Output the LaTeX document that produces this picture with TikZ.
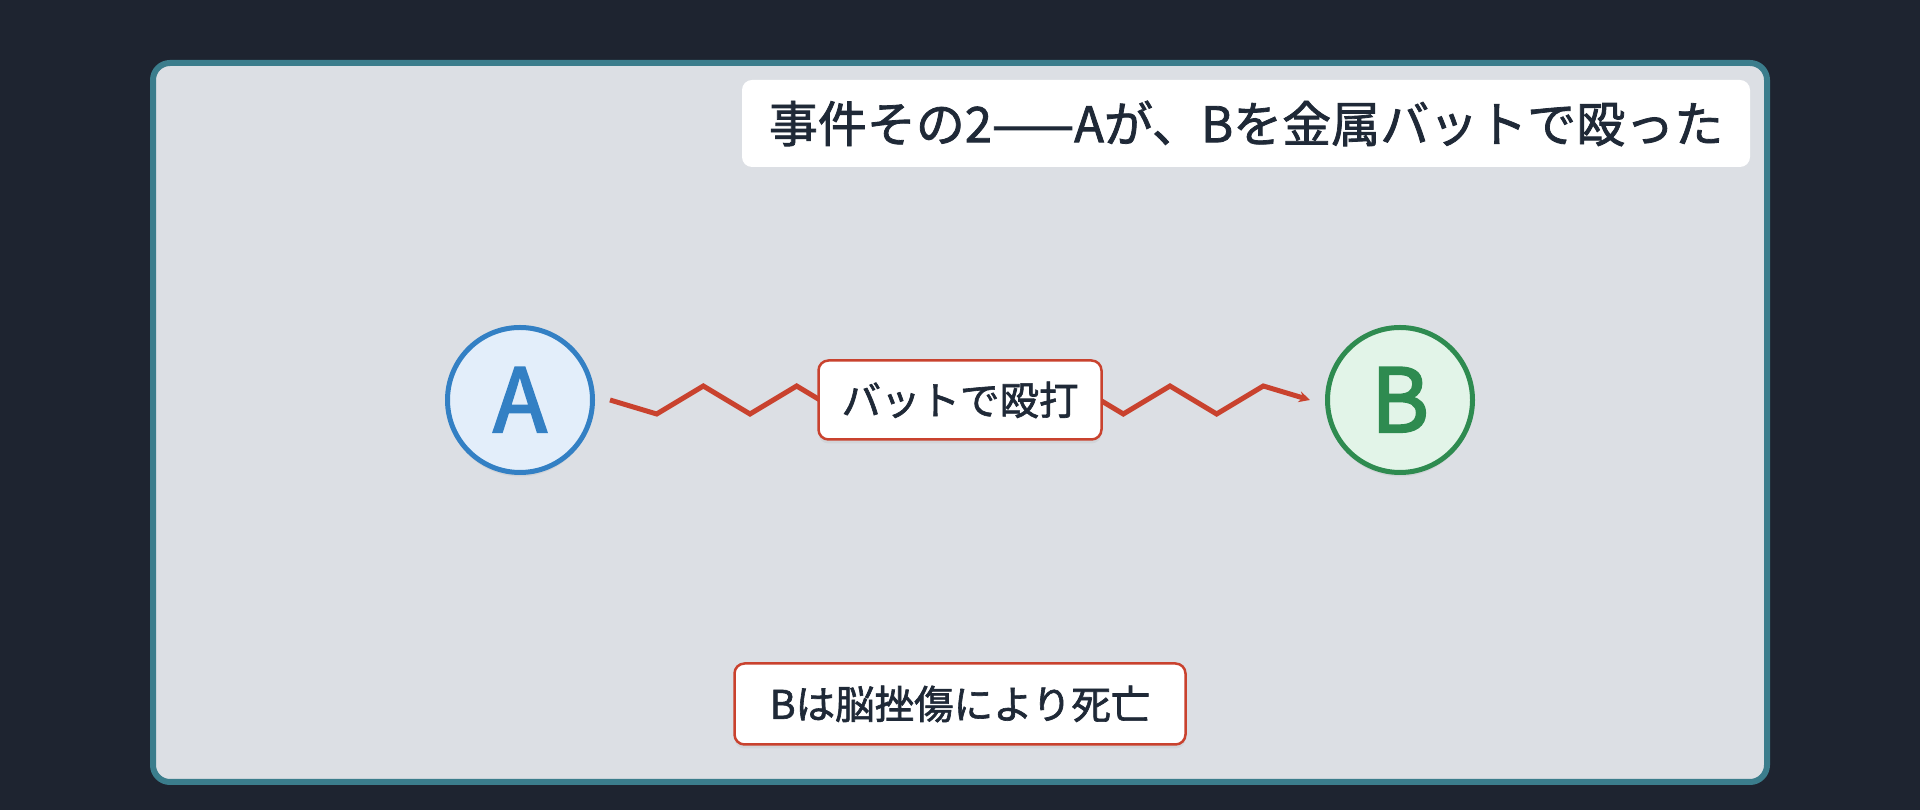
\documentclass[tikz,border=0pt]{standalone}
\usepackage{fontspec}
\setmainfont{Noto Sans CJK JP}
\newfontfamily\jpmid[FakeBold=1.6]{Noto Sans CJK JP}
\newfontfamily\jpletter[FakeBold=2.6]{Noto Sans CJK JP}
\usetikzlibrary{
  arrows.meta,
  calc,
  shadows
}
\usepackage{xcolor}
\definecolor{night}{rgb}{0.1176,0.1412,0.1882}
\definecolor{panelGray}{rgb}{0.8627,0.8745,0.8941}
\definecolor{panelTeal}{rgb}{0.2314,0.4902,0.549}
\definecolor{ink}{rgb}{0.1216,0.1608,0.2157}
\definecolor{hitRed}{rgb}{0.7882,0.2588,0.1804}
\definecolor{blueLine}{rgb}{0.2,0.502,0.7686}
\definecolor{lightBlue}{rgb}{0.8902,0.9333,0.9804}
\definecolor{greenLine}{rgb}{0.1804,0.5451,0.3137}
\definecolor{lightGreen}{rgb}{0.8863,0.9569,0.9098}
\tikzset{
  person/.style={
    circle,
    line width=5pt,
    minimum size=145pt,
    inner sep=0pt,
    outer sep=17.5pt,
    font=\jpletter\fontsize{88}{92}\selectfont,
    text height=64pt,
    text depth=0pt,
    drop shadow={opacity=0.12, shadow xshift=0pt, shadow yshift=-4pt}
  },
  tag/.style={
    draw=hitRed,
    line width=2.5pt,
    fill=white,
    rounded corners=10pt,
    text=ink,
    font=\jpmid\fontsize{39.5}{44}\selectfont,
    drop shadow={opacity=0.1, shadow xshift=0pt, shadow yshift=-4pt}
  },
  headline/.style={
    fill=white,
    rounded corners=10pt,
    text=ink,
    minimum width=1008pt,
    minimum height=87pt,
    font=\jpmid\fontsize{49}{53}\selectfont
  },
  hit/.style={
    draw=hitRed,
    line width=5pt,
    -{Stealth[length=11pt 0,width=11pt 0]}
  }
}

\begin{document}
\begin{tikzpicture}[x=1pt, y=1pt]
  \useasboundingbox (0,0) rectangle (1920,810);
  \fill[night] (0,0) rectangle (1920,810);
  \draw[line width=6pt, draw=panelTeal, fill=panelGray, rounded corners=17pt]
    (153,28) rectangle (1767,747);

  \node[headline] (title) at (1246,686.5) {事件その2——Aが、Bを金属バットで殴った};

  \node[person, draw=blueLine, fill=lightBlue, text=blueLine] (A) at (520,410) {A};
  \node[person, draw=greenLine, fill=lightGreen, text=greenLine] (B) at (1400,410) {B};

  % zigzag blow from A to B
  \draw[hit] (A.east) \foreach \k in {1,...,14}{
      -- ($(A.east)!\k/15!(B.west)+(0,{14*cos(180*\k)})$)
    } -- (B.west);

  \node[tag, minimum width=283pt, minimum height=79pt] (bat) at ($(A)!0.5!(B)$) {バットで殴打};
  \node[tag, minimum width=451pt, minimum height=81pt] (death) at (960,106) {Bは脳挫傷により死亡};
\end{tikzpicture}
\end{document}
